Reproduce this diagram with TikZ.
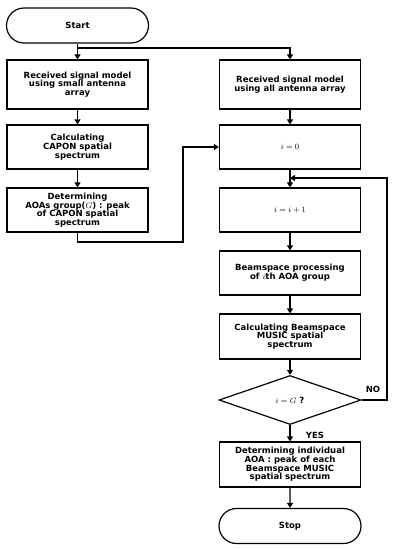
\documentclass[tikz,border=0pt]{standalone}
\usepackage{fontspec}
\setmainfont{DejaVu Sans}
\usetikzlibrary{shapes.misc,shapes.geometric,arrows.meta}
\begin{document}
\begin{tikzpicture}[x=1pt,y=-1pt,
  every node/.style={font=\fontsize{8.5}{8.7}\selectfont\bfseries, align=center},
  box/.style={draw, line width=1.2pt, minimum width=141pt, inner sep=1pt},
  term/.style={draw, line width=1.2pt, rounded rectangle, inner xsep=0pt, minimum width=142pt, minimum height=35pt, text width=90pt},
  dec/.style={draw, line width=1.2pt, diamond, aspect=2.9, minimum width=142pt, minimum height=49pt, inner sep=0pt},
  arr/.style={line width=1.2pt, -{Triangle[length=5pt,width=6pt]}},
  lbl/.style={font=\fontsize{8.5}{8.7}\selectfont\bfseries}]
\useasboundingbox (0,0) rectangle (406,550);
\node[term] (start) at (77.5,25.5) {Start};
\node[box, minimum height=49pt] (L1) at (77.5,84.5) {Received signal model\\using small antenna\\array};
\node[box, minimum height=44pt] (L2) at (77.5,147) {Calculating\\CAPON spatial\\spectrum};
\node[box, minimum height=44pt] (L3) at (77.5,210) {Determining\\AOAs group($G$) : peak\\of CAPON spatial\\spectrum};
\node[box, minimum height=49pt] (R1) at (290,84.5) {Received signal model\\using all antenna array};
\node[box, minimum height=44pt] (R2) at (290,147) {$i=0$};
\node[box, minimum height=44pt] (R3) at (290,210) {$i=i+1$};
\node[box, minimum height=44pt] (R4) at (290,273) {Beamspace processing\\of $i$th AOA group};
\node[box, minimum height=45pt] (R5) at (290,336.5) {Calculating Beamspace\\MUSIC spatial\\spectrum};
\node[dec] (D) at (290,400) {$i=G$ ?};
\node[box, minimum height=45pt] (R6) at (290,464.5) {Determining individual\\AOA : peak of each\\Beamspace MUSIC\\spatial spectrum};
\node[term] (stop) at (290,526) {Stop};
\coordinate (br) at (77.5,48);
\coordinate (c2) at (183,242);
\coordinate (lp) at (387,400);
\coordinate (m) at (290,178);
\draw[arr] (start.south) -- (L1.north);
\draw[arr] (br) -| (R1.north);
\draw[arr] (L1) -- (L2);
\draw[arr] (L2) -- (L3);
\draw[arr] (L3.south) |- (c2) |- (R2.west);
\draw[arr] (R1) -- (R2);
\draw[arr] (R2) -- (R3);
\draw[arr] (R3) -- (R4);
\draw[arr] (R4) -- (R5);
\draw[arr] (R5) -- (D);
\draw[arr] (D) -- (R6);
\draw[arr] (R6) -- (stop);
\draw[arr] (D.east) -- (lp) |- (m);
\node[lbl] (no) at (373,389) {NO};
\node[lbl] (yes) at (315,435) {YES};
\end{tikzpicture}
\end{document}
